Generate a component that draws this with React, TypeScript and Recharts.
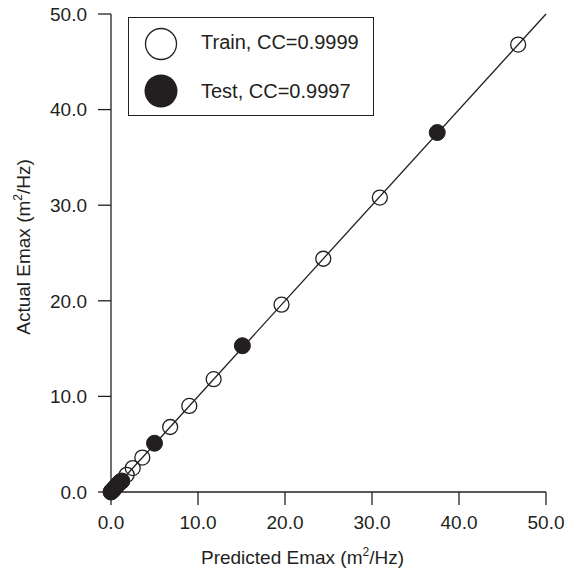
import React from 'react';
import { ScatterChart, Scatter, XAxis, YAxis, ReferenceLine } from 'recharts';

const trainX = [0.3, 0.7, 1.1, 1.8, 2.5, 3.6, 6.8, 9.0, 11.8, 19.6, 24.4, 30.9, 46.8];
const trainY = [0.3, 0.7, 1.1, 1.8, 2.5, 3.6, 6.8, 9.0, 11.8, 19.6, 24.4, 30.8, 46.8];
const testX = [0.0, 0.1, 0.25, 0.4, 0.6, 0.8, 1.0, 1.25, 5.0, 15.1, 37.5];
const testY = [0.0, 0.1, 0.2, 0.4, 0.6, 0.8, 1.0, 1.15, 5.1, 15.3, 37.6];
const axisTicks = [0, 10, 20, 30, 40, 50];
const legendLabels = ['Train, CC=0.9999', 'Test, CC=0.9997'];

const trainData = trainX.map((x, i) => ({ x, y: trainY[i] }));
const testData = testX.map((x, i) => ({ x, y: testY[i] }));

const INK = '#231f20';
const FONT = '"Liberation Sans", Arial, Helvetica, sans-serif';

const OpenDot = (props: any) => (
  <circle cx={props.cx} cy={props.cy} r={7.5} fill="none" stroke={INK} strokeWidth={1.3} />
);
const FilledDot = (props: any) => (
  <circle cx={props.cx} cy={props.cy} r={8} fill={INK} stroke={INK} strokeWidth={1} />
);

const LegendBox = () => (
  <div
    style={{
      position: 'absolute',
      left: 128,
      top: 17,
      width: 246,
      height: 99,
      border: `1.3px solid ${INK}`,
      background: '#fff',
      fontFamily: FONT,
      fontSize: 20,
      color: INK,
      boxSizing: 'border-box',
    }}
  >
    <svg width={40} height={90} style={{ position: 'absolute', left: 14, top: 4 }}>
      <circle cx={18} cy={22} r={15.5} fill="none" stroke={INK} strokeWidth={1.3} />
      <circle cx={18} cy={69} r={16.5} fill={INK} />
    </svg>
    <div style={{ position: 'absolute', left: 72, top: 13, whiteSpace: 'nowrap' }}>{legendLabels[0]}</div>
    <div style={{ position: 'absolute', left: 72, top: 62, whiteSpace: 'nowrap' }}>{legendLabels[1]}</div>
  </div>
);

const XTitle = (props: any) => {
  const vb = props.viewBox;
  const cx = vb.x + vb.width / 2 - 26;
  return (
    <text x={cx} y={vb.y + 72} textAnchor="middle" fontFamily={FONT} fontSize={19} fill={INK}>
      Predicted Emax (m
      <tspan dy={-8} fontSize={12}>2</tspan>
      <tspan dy={8}>/Hz)</tspan>
    </text>
  );
};

const YTitle = (props: any) => {
  const vb = props.viewBox;
  const cy = vb.y + vb.height / 2 - 6;
  const cx = 30;
  return (
    <text
      x={cx}
      y={cy}
      textAnchor="middle"
      fontFamily={FONT}
      fontSize={19}
      fill={INK}
      transform={`rotate(-90 ${cx} ${cy})`}
    >
      Actual Emax (m
      <tspan dy={-8} fontSize={12}>2</tspan>
      <tspan dy={8}>/Hz)</tspan>
    </text>
  );
};

export default function App() {
  return (
    <div style={{ position: 'absolute', left: 0, top: 0, width: 572, height: 572, background: '#fff' }}>
      <ScatterChart width={572} height={572} margin={{ top: 14, right: 26, bottom: 0, left: 0 }}>
        <XAxis
          type="number"
          dataKey="x"
          domain={[0, 50]}
          ticks={axisTicks}
          tickFormatter={(v: number) => v.toFixed(1)}
          height={80}
          tickSize={13}
          tickMargin={11}
          stroke={INK}
          strokeWidth={1.3}
          tick={{ fill: INK, fontSize: 19, fontFamily: FONT }}
          label={<XTitle />}
        />
        <YAxis
          type="number"
          dataKey="y"
          domain={[0, 50]}
          ticks={axisTicks}
          tickFormatter={(v: number) => v.toFixed(1)}
          width={111}
          tickSize={13}
          tickMargin={11}
          stroke={INK}
          strokeWidth={1.3}
          tick={{ fill: INK, fontSize: 19, fontFamily: FONT }}
          label={<YTitle />}
        />
        <ReferenceLine
          segment={[{ x: 0, y: 0 }, { x: 50, y: 50 }]}
          stroke={INK}
          strokeWidth={1.3}
          ifOverflow="visible"
        />
        <Scatter data={trainData} shape={<OpenDot />} isAnimationActive={false} />
        <Scatter data={testData} shape={<FilledDot />} isAnimationActive={false} />
      </ScatterChart>
      <LegendBox />
    </div>
  );
}
